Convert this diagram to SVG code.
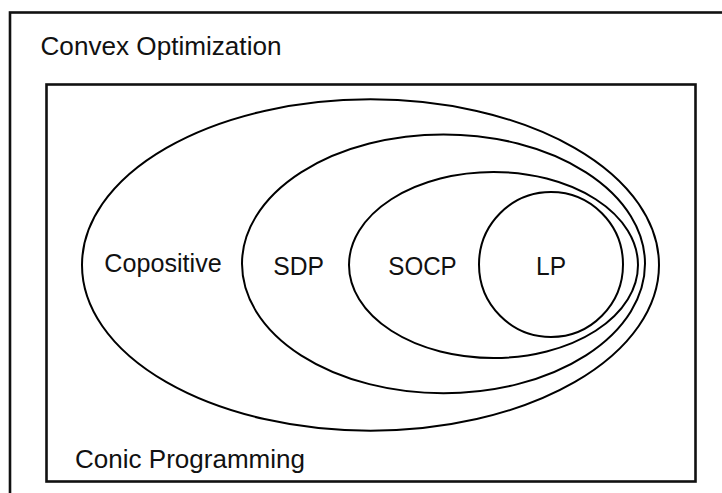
<svg xmlns="http://www.w3.org/2000/svg" width="722" height="493" viewBox="0 0 722 493">
  <style>
    .box { fill: none; stroke: #111; stroke-width: 2.6; }
    .set { fill: none; stroke: #000; stroke-width: 2; }
    .lbl { font-family: "Liberation Sans", Arial, sans-serif; font-size: 26px; fill: #111; }
  </style>
  <rect width="722" height="493" fill="#fff"/>

  <!-- outer frame: convex optimization -->
  <g id="convex-optimization">
    <rect class="box" x="10" y="12.5" width="730" height="500"/>
    <text class="lbl" x="40.5" y="55" textLength="241" lengthAdjust="spacingAndGlyphs" font-size="26.5">Convex Optimization</text>
  </g>

  <!-- inner frame: conic programming -->
  <g id="conic-programming">
    <rect class="box" x="46.5" y="84.5" width="649" height="397"/>
    <text class="lbl" x="75" y="468" textLength="230" lengthAdjust="spacingAndGlyphs" font-size="26.5">Conic Programming</text>
  </g>

  <!-- nested cone classes -->
  <g id="copositive">
    <ellipse class="set" cx="370.5" cy="265" rx="288.5" ry="165.7"/>
    <text class="lbl" x="104.3" y="272" textLength="117.4" lengthAdjust="spacingAndGlyphs" font-size="25.5">Copositive</text>
  </g>
  <g id="sdp">
    <ellipse class="set" cx="443.5" cy="263.8" rx="201.5" ry="129.4"/>
    <text class="lbl" x="273.3" y="274.5" textLength="50.7" lengthAdjust="spacingAndGlyphs">SDP</text>
  </g>
  <g id="socp">
    <ellipse class="set" cx="493.5" cy="265" rx="144.5" ry="93"/>
    <text class="lbl" x="388.3" y="274.5" textLength="68.4" lengthAdjust="spacingAndGlyphs">SOCP</text>
  </g>
  <g id="lp">
    <ellipse class="set" cx="551" cy="264.5" rx="72" ry="72.5"/>
    <text class="lbl" x="536" y="274.5" textLength="30" lengthAdjust="spacingAndGlyphs" font-size="27">LP</text>
  </g>

  <g id="connectors"/>
</svg>
